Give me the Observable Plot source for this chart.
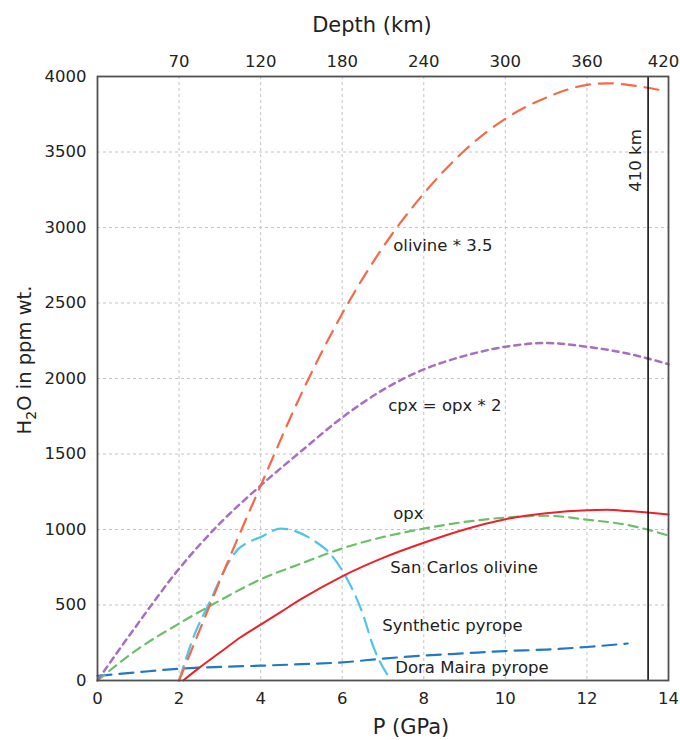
<!DOCTYPE html>
<html><head><meta charset="utf-8">
<script src="https://cdn.jsdelivr.net/npm/d3@7"></script>
<script src="https://cdn.jsdelivr.net/npm/@observablehq/plot@0.6"></script>
<style>body{margin:0;background:#fff;} #chart svg{display:block;}</style>
</head><body><div id="chart"></div>
<script>
// ---- data ----
const olivineP = [2, 2.5, 3, 3.5, 4, 5, 6, 7, 8, 9, 10, 11, 12, 12.5, 13, 13.8];
const olivineH = [0, 330, 660, 980, 1290, 1900, 2430, 2870, 3225, 3510, 3720, 3860, 3945, 3955, 3945, 3910];

const cpxP = [0, 1, 2, 3, 4, 5, 6, 7, 8, 9, 10, 11, 12, 13, 14];
const cpxH = [0, 380, 740, 1040, 1291, 1520, 1742, 1925, 2060, 2150, 2210, 2235, 2210, 2165, 2095];

const opxP = [0, 1, 2, 3, 4, 5, 6, 7, 8, 9, 10, 11, 12, 13, 14];
const opxH = [0, 210, 377, 530, 670, 775, 875, 950, 1006, 1050, 1079, 1091, 1065, 1030, 960];

const sanCarlosP = [2.1, 2.5, 3, 3.5, 4, 4.5, 5, 6, 7, 8, 9, 10, 11, 12, 12.5, 13, 14];
const sanCarlosH = [0, 85, 185, 285, 370, 455, 540, 690, 812, 912, 1000, 1068, 1108, 1128, 1130, 1122, 1099];

const synPyropeP = [2, 2.35, 2.77, 3.19, 3.45, 3.7, 4, 4.49, 4.8, 5.3, 5.7, 6.1, 6.5, 6.77, 7.2];
const synPyropeH = [0, 285, 530, 770, 870, 915, 950, 1006, 993, 927, 841, 682, 444, 219, 0];

const doraP = [0, 1, 2, 3, 4, 5, 6, 7, 8, 9, 10, 11, 12, 13];
const doraH = [30, 55, 78, 90, 98, 108, 120, 145, 165, 180, 195, 205, 222, 245];

const labelText = ["olivine * 3.5", "cpx = opx * 2", "opx", "San Carlos olivine", "Synthetic pyrope", "Dora Maira pyrope"];
const labelP = [7.25, 7.13, 7.25, 7.18, 6.98, 7.3];
const labelH = [2880, 1821, 1106, 745, 364, 84];

const p410 = 13.5;
const p410Label = ["410 km"];
const p410LabelP = [13.19];
const p410LabelH = [3444];

const xTicks = [0, 2, 4, 6, 8, 10, 12, 14];
const yTicks = [0, 500, 1000, 1500, 2000, 2500, 3000, 3500, 4000];
const depthTickP = [2, 4, 6, 8, 10, 12, 14];
const depthTickLabels = ["70", "120", "180", "240", "300", "360", "420"];

// ---- build ----
const rows = (P, H) => P.map((p, i) => ({P: p, H: H[i]}));
const labels = labelText.map((t, i) => ({t, P: labelP[i], H: labelH[i]}));
const lab410 = p410Label.map((t, i) => ({t, P: p410LabelP[i], H: p410LabelH[i]}));
const depthFmt = d => depthTickLabels[depthTickP.indexOf(d)];

const FONT = "DejaVu Sans";
const gridStyle = {stroke: "#c4c4c4", strokeOpacity: 1, strokeWidth: 1, strokeDasharray: "3,3"};

const chart = Plot.plot({
  width: 680,
  height: 740,
  marginLeft: 97,
  marginRight: 12,
  marginTop: 76,
  marginBottom: 60,
  style: {fontFamily: FONT, fontSize: "16px", color: "#222", background: "#fff"},
  x: {domain: [0, 14]},
  y: {domain: [0, 4000]},
  marks: [
    Plot.gridX(depthTickP.slice(0, -1), gridStyle),
    Plot.gridY(yTicks.slice(1, -1), gridStyle),
    Plot.axisX({anchor: "bottom", ticks: xTicks, tickSize: 0, tickPadding: 12, label: null, fontSize: 16.5}),
    Plot.axisX({anchor: "top", ticks: depthTickP.slice(0, -1), tickSize: 0, tickPadding: 10, label: null, fontSize: 16.5,
      tickFormat: depthFmt}),
    Plot.axisX({anchor: "top", ticks: depthTickP.slice(-1), tickSize: 0, tickPadding: 10, label: null, fontSize: 16.5,
      tickFormat: depthFmt, dx: -5}),
    Plot.axisY({ticks: yTicks, tickSize: 0, tickPadding: 11, label: null, fontSize: 16.5, tickFormat: d => String(d)}),
    Plot.line(rows(doraP, doraH), {x: "P", y: "H", stroke: "#2179c6", strokeWidth: 2.2, strokeDasharray: "14,8", curve: "monotone-x"}),
    Plot.line(rows(opxP, opxH), {x: "P", y: "H", stroke: "#6cbf69", strokeWidth: 2.2, strokeDasharray: "9,6", curve: "monotone-x"}),
    Plot.line(rows(cpxP, cpxH), {x: "P", y: "H", stroke: "#a66fbf", strokeWidth: 2.5, strokeDasharray: "6,5", curve: "monotone-x"}),
    Plot.line(rows(synPyropeP, synPyropeH), {x: "P", y: "H", stroke: "#4fc4ec", strokeWidth: 2.2, strokeDasharray: "15,8", curve: "monotone-x"}),
    Plot.line(rows(olivineP, olivineH), {x: "P", y: "H", stroke: "#f4694b", strokeWidth: 2.2, strokeDasharray: "14,9", curve: "monotone-x"}),
    Plot.line(rows(sanCarlosP, sanCarlosH), {x: "P", y: "H", stroke: "#ea2229", strokeWidth: 2, curve: "monotone-x"}),
    Plot.ruleX([p410], {stroke: "#111", strokeWidth: 1.6}),
    Plot.text(labels, {x: "P", y: "H", text: "t", textAnchor: "start", fontSize: 16.5, fill: "#222"}),
    Plot.text(lab410, {x: "P", y: "H", text: "t", rotate: -90, textAnchor: "middle", fontSize: 16.5, fill: "#222"}),
    Plot.frame({stroke: "#505050", strokeWidth: 1.8})
  ]
});

const svg = d3.select(chart);
svg.append("text")
  .attr("x", 372).attr("y", 32)
  .attr("text-anchor", "middle")
  .attr("font-family", FONT).attr("font-size", 21).attr("fill", "#222")
  .text("Depth (km)");
svg.append("text")
  .attr("x", 411).attr("y", 734)
  .attr("text-anchor", "middle")
  .attr("font-family", FONT).attr("font-size", 21).attr("fill", "#222")
  .text("P (GPa)");
const yl = svg.append("text")
  .attr("transform", "translate(31,360) rotate(-90)")
  .attr("text-anchor", "middle")
  .attr("font-family", FONT).attr("font-size", 19.5).attr("fill", "#222");
yl.append("tspan").text("H");
yl.append("tspan").attr("dy", 5).attr("font-size", 14).text("2");
yl.append("tspan").attr("dy", -5).text("O in ppm wt.");

document.getElementById("chart").appendChild(chart);
</script>
</body></html>
